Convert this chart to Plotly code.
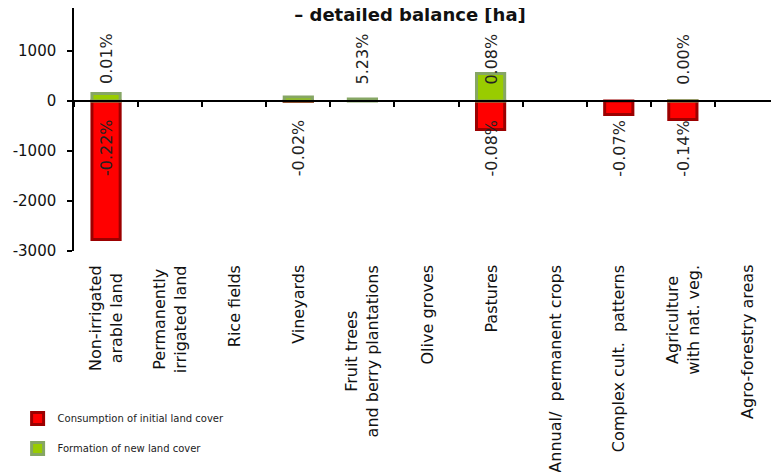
import plotly.graph_objects as go

categories = [
    "Non-irrigated<br>arable land",
    "Permanently<br>irrigated land",
    "Rice fields",
    "Vineyards",
    "Fruit trees<br>and berry plantations",
    "Olive groves",
    "Pastures",
    "Annual/  permanent crops",
    "Complex cult.  patterns",
    "Agriculture<br>with nat. veg.",
    "Agro-forestry areas",
]
consumption = [-2770, None, None, -10, None, None, -570, None, -270, -370, None]
formation = [150, None, None, 80, 40, None, 550, None, None, 5, None]
consumption_pct = ["-0.22%", "", "", "-0.02%", "", "", "-0.08%", "", "-0.07%", "-0.14%", ""]
formation_pct = ["0.01%", "", "", "", "5.23%", "", "0.08%", "", "", "0.00%", ""]
y_ticks = [-3000, -2000, -1000, 0, 1000]
y_ticktext = ["-3000", "-2000", "-1000", "0", "1000"]

FONT = "DejaVu Sans"
Y_MIN, Y_MAX = -3000, 1860
PLOT_H = 243

fig = go.Figure()
fig.add_trace(go.Bar(
    x=categories, y=consumption, name="Consumption of initial land cover",
    marker=dict(color="#FF0000", line=dict(color="#9C0000", width=3)),
    width=0.44, legendgroup="a",
))
fig.add_trace(go.Bar(
    x=categories, y=formation, name="Formation of new land cover",
    marker=dict(color="#99CC00", line=dict(color="#86A664", width=3)),
    width=0.44, legendgroup="b",
))
# helper trace for the zero-crossing category axis (ticks at boundaries)
fig.add_trace(go.Scatter(
    x=categories, y=[0] * len(categories), xaxis="x2", mode="markers",
    marker=dict(size=1, opacity=0), showlegend=False, hoverinfo="skip",
))

for cat, t in zip(categories, formation_pct):
    if t:
        fig.add_annotation(x=cat, y=840, text=t, textangle=-90, showarrow=False,
                           font=dict(family=FONT, size=16, color="#222222"))
for cat, t in zip(categories, consumption_pct):
    if t:
        fig.add_annotation(x=cat, y=-940, text=t, textangle=-90, showarrow=False,
                           font=dict(family=FONT, size=16, color="#222222"))

# category labels (centred multi-line, rotated)
for cat in categories:
    fig.add_annotation(x=cat, xref="x", yref="paper", y=-12 / PLOT_H, yanchor="top",
                       text=cat, textangle=-90, align="center", showarrow=False,
                       font=dict(family=FONT, size=16, color="#111111"))

fig.update_layout(
    title=dict(
        text="<b>– detailed balance [ha]</b>",
        x=402 / 771, xanchor="center", xref="container",
        y=1.0, yanchor="top", yref="container", pad=dict(t=0, b=0, l=0, r=0),
        font=dict(family=FONT, size=18, color="#111111"),
    ),
    width=771, height=464,
    margin=dict(l=66, r=0, t=0, b=221, autoexpand=False),
    paper_bgcolor="white", plot_bgcolor="white",
    barmode="relative",
    font=dict(family=FONT, size=15, color="#111111"),
    showlegend=True,
    legend=dict(
        xref="container", yref="container", x=9.6 / 771, y=1 - 396 / 464,
        xanchor="left", yanchor="top",
        font=dict(family=FONT, size=10, color="#222222"),
        traceorder="grouped", tracegroupgap=11, itemwidth=30,
        bgcolor="rgba(0,0,0,0)",
    ),
    xaxis=dict(
        type="category", categoryarray=categories, range=[-0.5, 10.5],
        showline=False, ticks="", showgrid=False, showticklabels=False,
    ),
    xaxis2=dict(
        type="category", categoryarray=categories, range=[-0.5, 10.5],
        overlaying="x", anchor="free", position=-Y_MIN / (Y_MAX - Y_MIN), side="bottom",
        showline=True, linecolor="black", linewidth=1.5,
        ticks="outside", tickson="boundaries", ticklen=5, tickwidth=1.5, tickcolor="black",
        showticklabels=False, showgrid=False,
    ),
    yaxis=dict(
        range=[Y_MIN, Y_MAX], tickvals=y_ticks, ticktext=y_ticktext,
        showgrid=False, zeroline=False,
        showline=True, linecolor="black", linewidth=1.5,
        ticks="outside", ticklen=5, tickwidth=1.5, tickcolor="black",
        ticklabelstandoff=8,
        tickfont=dict(family=FONT, size=15, color="#111111"),
    ),
)

fig.write_html("out.html")
